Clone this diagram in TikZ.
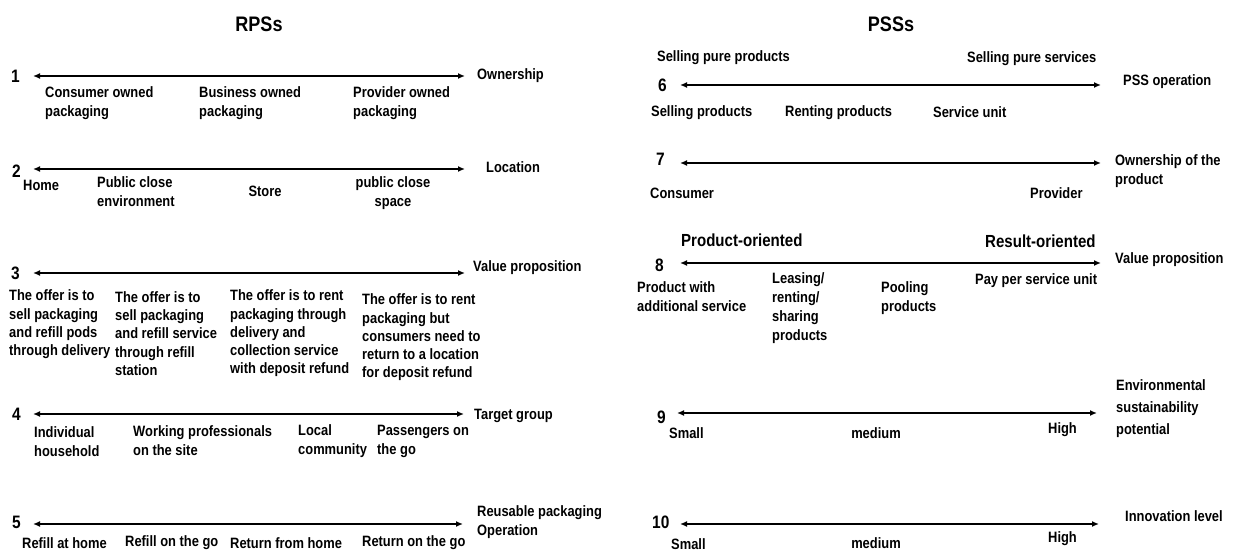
\documentclass[tikz,border=0pt]{standalone}
\usepackage{fontspec}
\setmainfont{Liberation Sans}[FakeStretch=0.86]
\usetikzlibrary{arrows.meta}
\tikzset{
  ax/.style={line width=1.7pt,{Latex[length=7pt,width=6pt]}-{Latex[length=7pt,width=6pt]}},
  lb/.style={font=\fontsize{15}{19}\selectfont\bfseries, align=left, inner sep=0pt, anchor=west},
  lbt/.style={lb, font=\fontsize{15}{18.3}\selectfont\bfseries},
  lbw/.style={lb, font=\fontsize{15}{22}\selectfont\bfseries},
  lbc/.style={lb, align=center, anchor=center},
  num/.style={font=\fontsize{18}{20}\selectfont\bfseries, inner sep=0pt, anchor=west},
  ttl/.style={font=\fontsize{21}{24}\selectfont\bfseries, inner sep=0pt},
  big/.style={font=\fontsize{17.5}{20}\selectfont\bfseries, inner sep=0pt, anchor=west}
}
\begin{document}
\begin{tikzpicture}[x=1pt,y=-1pt]
\useasboundingbox (0,0) rectangle (1243,554);
% titles
\node[ttl] (t1) at (259,24) {RPSs};
\node[ttl] (t2) at (891,24) {PSSs};
% ---------- left side ----------
% row 1
\node[num] (n1) at (11,76) {1};
\coordinate (a1l) at (33,76); \coordinate (a1r) at (465,76);
\draw[ax] (a1l) -- (a1r);
\node[lb] (c1) at (477,76) {Ownership};
\node[lb] (l11) at (45,103.5) {Consumer owned\\packaging};
\node[lb] (l12) at (199,103) {Business owned\\packaging};
\node[lb] (l13) at (353,103) {Provider owned\\packaging};
% row 2
\node[num] (n2) at (12,171) {2};
\coordinate (a2l) at (33,169); \coordinate (a2r) at (465,169);
\draw[ax] (a2l) -- (a2r);
\node[lb] (c2) at (486,167) {Location};
\node[lb] (l21) at (23,185) {Home};
\node[lb] (l22) at (97,191.5) {Public close\\environment};
\node[lbc] (l23) at (265,191) {Store};
\node[lbc] (l24) at (393,193) {public close\\space};
% row 3
\node[num] (n3) at (11,273) {3};
\coordinate (a3l) at (33,273); \coordinate (a3r) at (465,273);
\draw[ax] (a3l) -- (a3r);
\node[lb] (c3) at (473,268) {Value proposition};
\node[lbt] (l31) at (9,324.5) {The offer is to\\sell packaging\\and refill pods\\through delivery};
\node[lbt] (l32) at (115,333.5) {The offer is to\\sell packaging\\and refill service\\through refill\\station};
\node[lbt] (l33) at (230,333.5) {The offer is to rent\\packaging through\\delivery and\\collection service\\with deposit refund};
\node[lbt] (l34) at (362,337.5) {The offer is to rent\\packaging but\\consumers need to\\return to a location\\for deposit refund};
% row 4
\node[num] (n4) at (12,414) {4};
\coordinate (a4l) at (33,414); \coordinate (a4r) at (464,414);
\draw[ax] (a4l) -- (a4r);
\node[lb] (c4) at (474,416) {Target group};
\node[lb] (l41) at (34,441.5) {Individual\\household};
\node[lb] (l42) at (133,440.5) {Working professionals\\on the site};
\node[lb] (l43) at (298,441.5) {Local\\community};
\node[lb] (l44) at (377,441.5) {Passengers on\\the go};
% row 5
\node[num] (n5) at (12,522) {5};
\coordinate (a5l) at (33,524); \coordinate (a5r) at (463,524);
\draw[ax] (a5l) -- (a5r);
\node[lb] (c5) at (477,522) {Reusable packaging\\Operation};
\node[lb] (l51) at (22,543) {Refill at home};
\node[lb] (l52) at (125,543) {Refill on the go};
\node[lb] (l53) at (230,543) {Return from home};
\node[lb] (l54) at (362,543) {Return on the go};
% ---------- right side ----------
% row 6
\node[lb] (p61) at (657,58) {Selling pure products};
\node[lb] (p62) at (967,59) {Selling pure services};
\node[num] (n6) at (658,85) {6};
\coordinate (a6l) at (680,85); \coordinate (a6r) at (1101,85);
\draw[ax] (a6l) -- (a6r);
\node[lb] (c6) at (1123,82) {PSS operation};
\node[lb] (l61) at (651,113) {Selling products};
\node[lb] (l62) at (785,113) {Renting products};
\node[lb] (l63) at (933,112) {Service unit};
% row 7
\node[num] (n7) at (656,159) {7};
\coordinate (a7l) at (680,163); \coordinate (a7r) at (1101,163);
\draw[ax] (a7l) -- (a7r);
\node[lb] (c7) at (1115,171.5) {Ownership of the\\product};
\node[lb] (l71) at (650,193) {Consumer};
\node[lb] (l72) at (1030,193) {Provider};
% row 8
\node[big] (p81) at (681,240) {Product-oriented};
\node[big] (p82) at (985,241) {Result-oriented};
\node[num] (n8) at (655,265) {8};
\coordinate (a8l) at (680,263); \coordinate (a8r) at (1101,263);
\draw[ax] (a8l) -- (a8r);
\node[lb] (c8) at (1115,260) {Value proposition};
\node[lb] (l81) at (637,297) {Product with\\additional service};
\node[lb] (l82) at (772,308.5) {Leasing/\\renting/\\sharing\\products};
\node[lb] (l83) at (881,298.5) {Pooling\\products};
\node[lb] (l84) at (975,281) {Pay per service unit};
% row 9
\node[num] (n9) at (657,417) {9};
\coordinate (a9l) at (677,413); \coordinate (a9r) at (1097,413);
\draw[ax] (a9l) -- (a9r);
\node[lbw] (c9) at (1116,409) {Environmental\\sustainability\\potential};
\node[lb] (l91) at (669,433) {Small};
\node[lbc] (l92) at (876,433) {medium};
\node[lb] (l93) at (1048,430) {High};
% row 10
\node[num] (n10) at (652,522) {10};
\coordinate (a10l) at (680,524); \coordinate (a10r) at (1099,524);
\draw[ax] (a10l) -- (a10r);
\node[lb] (c10) at (1125,516) {Innovation level};
\node[lb] (l101) at (671,544) {Small};
\node[lbc] (l102) at (876,543) {medium};
\node[lb] (l103) at (1048,539) {High};
\end{tikzpicture}
\end{document}
